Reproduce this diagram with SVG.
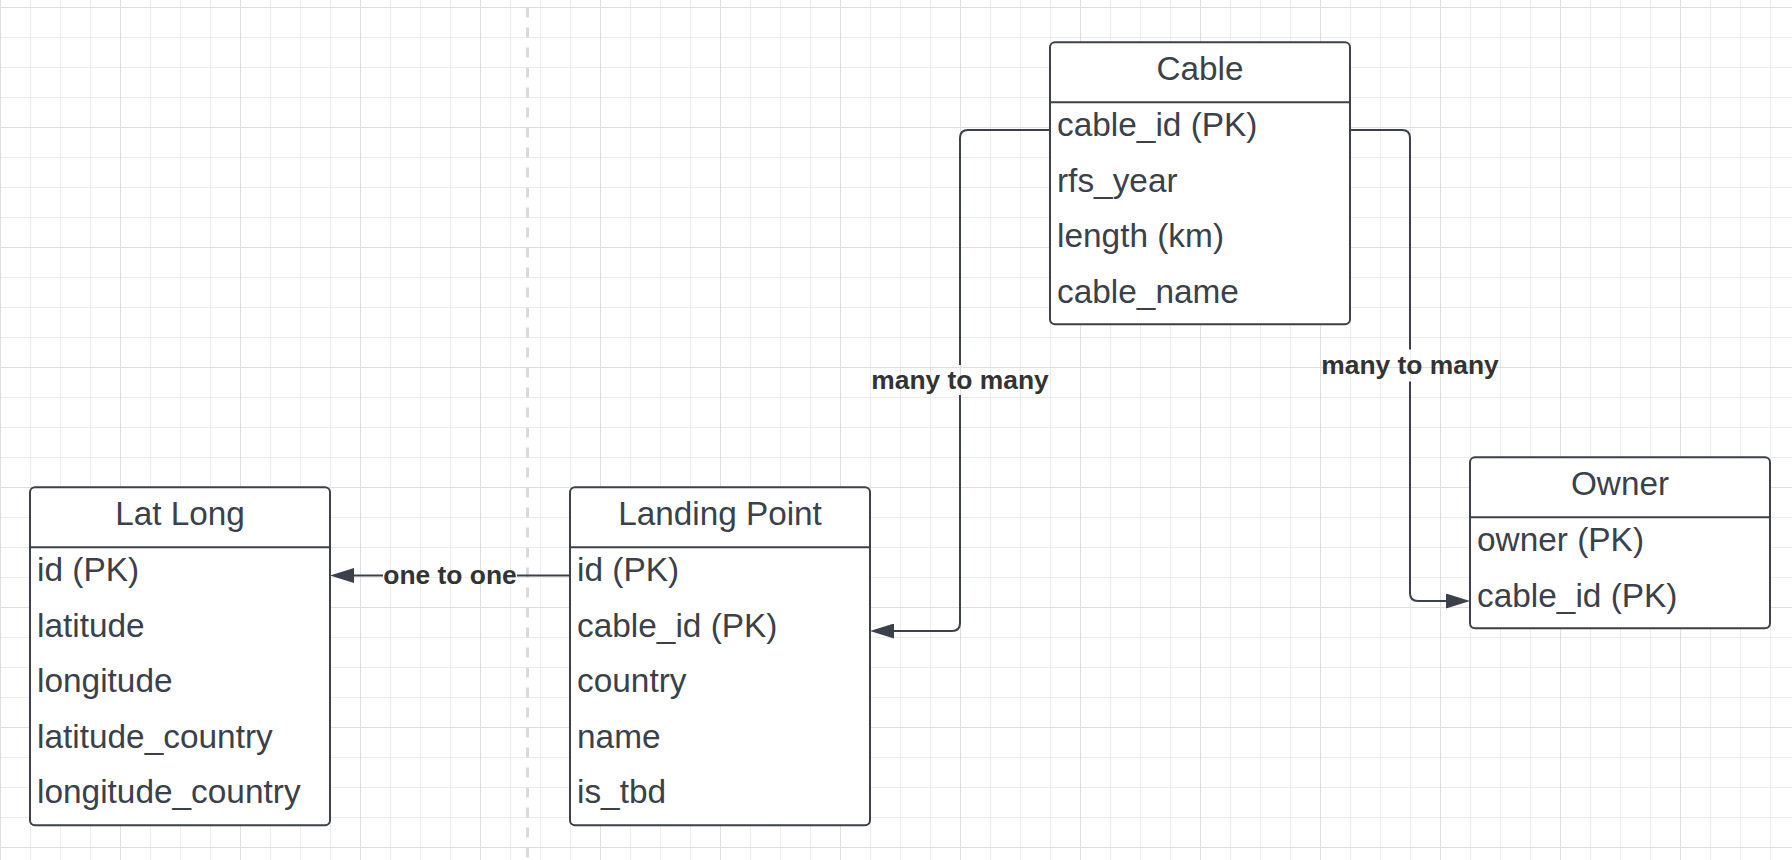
<svg xmlns="http://www.w3.org/2000/svg" width="1792" height="860" viewBox="0 0 1792 860">
  <style>
    .box { fill: #ffffff; stroke: #3a414a; stroke-width: 2; }
    .div { stroke: #3a414a; stroke-width: 2; }
    .title { font-family: "Liberation Sans", Arial, sans-serif; font-size: 33.3px; fill: #3a414a; text-anchor: middle; }
    .field { font-family: "Liberation Sans", Arial, sans-serif; font-size: 33.4px; fill: #3a414a; }
    .conn { fill: none; stroke: #3a414a; stroke-width: 2; }
    .lbl { font-family: "Liberation Sans", Arial, sans-serif; font-size: 26.4px; font-weight: bold; fill: #333333; text-anchor: middle; }
  </style>
  <defs>
    <pattern id="grid" patternUnits="userSpaceOnUse" x="0" y="7" width="120" height="120">
      <path d="M30.5,0 V120 M60.5,0 V120 M90.5,0 V120 M0,30.5 H120 M0,60.5 H120 M0,90.5 H120" stroke="#ececec" stroke-width="1" fill="none"/>
      <path d="M0.5,0 V120 M0,0.5 H120" stroke="#dedede" stroke-width="1" fill="none"/>
    </pattern>
    <marker id="arr" markerWidth="24" markerHeight="15" refX="0" refY="7.5" orient="auto" markerUnits="userSpaceOnUse">
      <path d="M0,0 L24,7.5 L0,15 z" fill="#3a414a"/>
    </marker>
  </defs>

  <rect x="0" y="0" width="1792" height="860" fill="#ffffff"/>
  <rect x="0" y="0" width="1792" height="860" fill="url(#grid)"/>
  <line x1="527.5" y1="7.5" x2="527.5" y2="860" stroke="#dadada" stroke-width="3" stroke-dasharray="10 10"/>

  <g id="connectors">
    <!-- Landing Point id -> Lat Long id -->
    <path class="conn" d="M570,575.5 H517"/>
    <path class="conn" d="M383,575.5 H354" marker-end="url(#arr)"/>
    <text class="lbl" x="450" y="583.5">one to one</text>
    <!-- Cable cable_id -> Landing Point cable_id -->
    <path class="conn" d="M1050,130 H968 Q960,130 960,138 V365"/>
    <path class="conn" d="M960,395 V623 Q960,631 952,631 H894" marker-end="url(#arr)"/>
    <text class="lbl" x="960" y="388.5">many to many</text>
    <!-- Cable cable_id -> Owner cable_id -->
    <path class="conn" d="M1350,130 H1402 Q1410,130 1410,138 V349.5"/>
    <path class="conn" d="M1410,381.5 V593 Q1410,601 1418,601 H1446" marker-end="url(#arr)"/>
    <text class="lbl" x="1410" y="373.5">many to many</text>
  </g>

  <g id="cable">
    <rect class="box" x="1050" y="42.3" width="300" height="282" rx="5"/>
    <line class="div" x1="1050" y1="102.3" x2="1350" y2="102.3"/>
    <text class="title" x="1200" y="80">Cable</text>
    <text class="field" x="1057" y="136.3">cable_id (PK)</text>
    <text class="field" x="1057" y="191.8">rfs_year</text>
    <text class="field" x="1057" y="247.3">length (km)</text>
    <text class="field" x="1057" y="302.8">cable_name</text>
  </g>

  <g id="lat-long">
    <rect class="box" x="30" y="487.3" width="300" height="338" rx="5"/>
    <line class="div" x1="30" y1="547.3" x2="330" y2="547.3"/>
    <text class="title" x="180" y="525">Lat Long</text>
    <text class="field" x="37" y="581.3">id (PK)</text>
    <text class="field" x="37" y="636.8">latitude</text>
    <text class="field" x="37" y="692.3">longitude</text>
    <text class="field" x="37" y="747.8">latitude_country</text>
    <text class="field" x="37" y="803.3">longitude_country</text>
  </g>

  <g id="landing-point">
    <rect class="box" x="570" y="487.3" width="300" height="338" rx="5"/>
    <line class="div" x1="570" y1="547.3" x2="870" y2="547.3"/>
    <text class="title" x="720" y="525">Landing Point</text>
    <text class="field" x="577" y="581.3">id (PK)</text>
    <text class="field" x="577" y="636.8">cable_id (PK)</text>
    <text class="field" x="577" y="692.3">country</text>
    <text class="field" x="577" y="747.8">name</text>
    <text class="field" x="577" y="803.3">is_tbd</text>
  </g>

  <g id="owner">
    <rect class="box" x="1470" y="457.3" width="300" height="171" rx="5"/>
    <line class="div" x1="1470" y1="517.3" x2="1770" y2="517.3"/>
    <text class="title" x="1620" y="495">Owner</text>
    <text class="field" x="1477" y="551.3">owner (PK)</text>
    <text class="field" x="1477" y="606.8">cable_id (PK)</text>
  </g>
</svg>
